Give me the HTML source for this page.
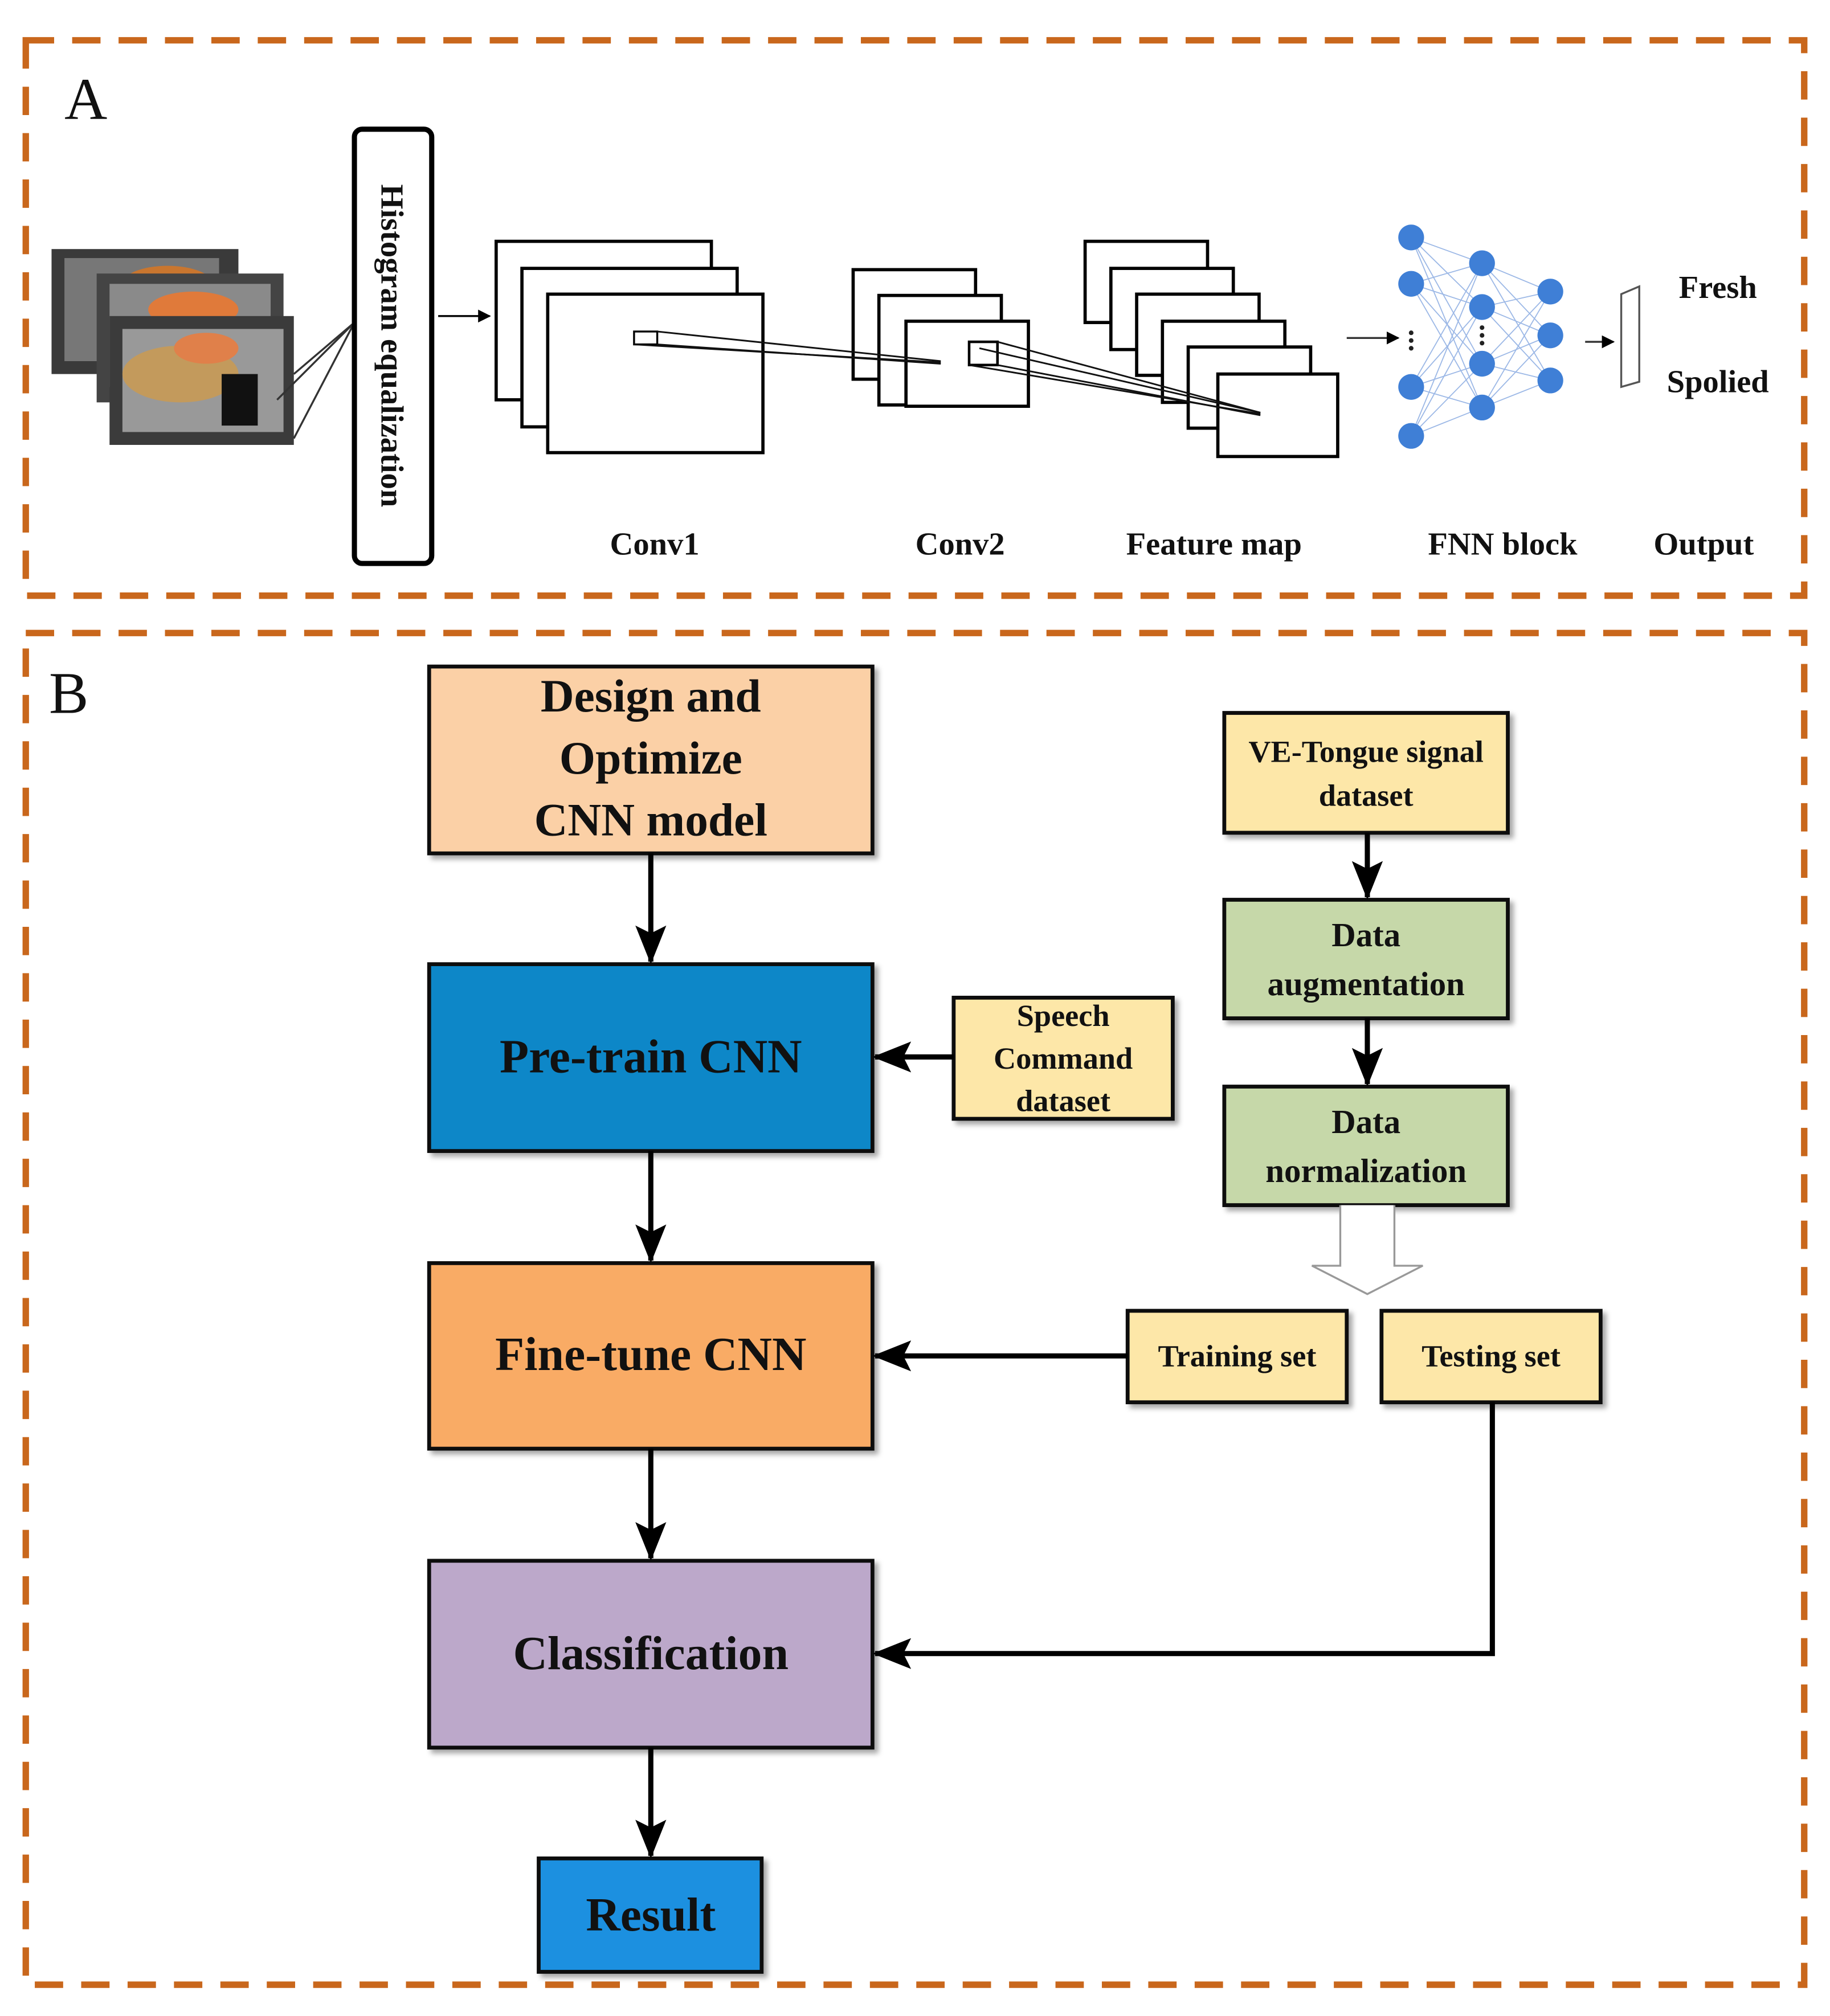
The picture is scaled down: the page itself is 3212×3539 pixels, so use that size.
<!DOCTYPE html>
<html><head><meta charset="utf-8"><style>
html,body{margin:0;padding:0;background:#fff;}
svg{display:block;}
text{font-family:"Liberation Serif",serif;font-weight:bold;fill:#111;}
</style></head><body>
<svg width="3212" height="3539" viewBox="0 0 1420 1564" xmlns="http://www.w3.org/2000/svg">
<defs>
<marker id="ah" markerWidth="10" markerHeight="10" refX="9" refY="5" orient="auto" markerUnits="userSpaceOnUse"><path d="M0,0 L10,5 L0,10 z" fill="#000"/></marker>
<marker id="AH" markerWidth="30" markerHeight="24" refX="28" refY="12" orient="auto" markerUnits="userSpaceOnUse"><path d="M0,0 L30,12 L0,24 L6,12 z" fill="#000"/></marker>
<filter id="sh" x="-5%" y="-5%" width="115%" height="115%"><feDropShadow dx="3" dy="3" stdDeviation="2" flood-color="#000" flood-opacity="0.35"/></filter>
</defs>
<!-- panel borders -->
<rect x="20" y="31" width="1380" height="431" fill="none" stroke="#c9671c" stroke-width="5" stroke-dasharray="22 14"/>
<rect x="20" y="491" width="1380" height="1049" fill="none" stroke="#c9671c" stroke-width="5" stroke-dasharray="22 14"/>
<text x="50" y="92" font-size="46" style="font-weight:normal">A</text>
<text x="38" y="553" font-size="46" style="font-weight:normal">B</text>

<!-- images -->
<rect x="40" y="193" width="145" height="97" fill="#3a3a3a"/>
<rect x="50" y="200" width="120" height="80" fill="#777"/>
<ellipse cx="130" cy="220" rx="35" ry="14" fill="#c9762f"/>
<rect x="75" y="212" width="145" height="100" fill="#444"/>
<rect x="85" y="220" width="125" height="80" fill="#8a8a8a"/>
<ellipse cx="150" cy="240" rx="35" ry="14" fill="#e07a3a"/>
<rect x="85" y="245" width="143" height="100" fill="#3b3b3b"/>
<rect x="95" y="255" width="125" height="80" fill="#999"/>
<ellipse cx="140" cy="290" rx="45" ry="22" fill="#c39a5c"/>
<ellipse cx="160" cy="270" rx="25" ry="12" fill="#e0804a"/>
<rect x="172" y="290" width="28" height="40" fill="#111"/>
<line x1="228" y1="290" x2="275" y2="250" stroke="#333" stroke-width="1.5"/>
<line x1="228" y1="340" x2="275" y2="250" stroke="#333" stroke-width="1.5"/>
<line x1="215" y1="310" x2="275" y2="250" stroke="#333" stroke-width="1.5"/>

<!-- histogram -->
<rect x="275" y="100" width="60" height="337" rx="6" fill="#fff" stroke="#000" stroke-width="4"/>
<text transform="translate(296,268) rotate(90)" font-size="25" text-anchor="middle">Histogram equalization</text>
<line x1="340" y1="245" x2="380" y2="245" stroke="#000" stroke-width="1.5" marker-end="url(#ah)"/>

<!-- conv1 -->
<g fill="#fff" stroke="#000" stroke-width="2.5">
<rect x="385" y="187" width="167" height="123"/>
<rect x="405" y="208" width="167" height="123"/>
<rect x="425" y="228" width="167" height="123"/>
<rect x="492" y="257" width="18" height="10" stroke-width="1.5"/>
<rect x="662" y="209" width="95" height="85"/>
<rect x="682" y="229" width="95" height="85"/>
<rect x="703" y="249" width="95" height="66"/>
<rect x="752" y="265" width="22" height="18" stroke-width="2"/>
<rect x="842" y="187" width="95" height="63"/>
<rect x="862" y="208" width="95" height="63"/>
<rect x="882" y="228" width="95" height="63"/>
<rect x="902" y="249" width="95" height="63"/>
<rect x="922" y="269" width="95" height="63"/>
<rect x="945" y="290" width="93" height="64"/>
</g>
<g stroke="#111" stroke-width="1.3">
<line x1="510" y1="257" x2="730" y2="280"/><line x1="510" y1="267" x2="730" y2="282"/><line x1="492" y1="267" x2="730" y2="281"/>
<line x1="774" y1="265" x2="978" y2="320"/><line x1="774" y1="283" x2="978" y2="322"/><line x1="752" y1="283" x2="978" y2="321"/><line x1="760" y1="270" x2="978" y2="320"/>
</g>

<!-- FNN -->
<g stroke="#9cb8e6" stroke-width="0.8">
<line x1="1095" y1="184" x2="1150" y2="204"/><line x1="1095" y1="184" x2="1150" y2="238"/><line x1="1095" y1="184" x2="1150" y2="282"/><line x1="1095" y1="184" x2="1150" y2="316"/>
<line x1="1095" y1="220" x2="1150" y2="204"/><line x1="1095" y1="220" x2="1150" y2="238"/><line x1="1095" y1="220" x2="1150" y2="282"/><line x1="1095" y1="220" x2="1150" y2="316"/>
<line x1="1095" y1="300" x2="1150" y2="204"/><line x1="1095" y1="300" x2="1150" y2="238"/><line x1="1095" y1="300" x2="1150" y2="282"/><line x1="1095" y1="300" x2="1150" y2="316"/>
<line x1="1095" y1="338" x2="1150" y2="204"/><line x1="1095" y1="338" x2="1150" y2="238"/><line x1="1095" y1="338" x2="1150" y2="282"/><line x1="1095" y1="338" x2="1150" y2="316"/>
<line x1="1150" y1="204" x2="1203" y2="226"/><line x1="1150" y1="204" x2="1203" y2="260"/><line x1="1150" y1="204" x2="1203" y2="295"/>
<line x1="1150" y1="238" x2="1203" y2="226"/><line x1="1150" y1="238" x2="1203" y2="260"/><line x1="1150" y1="238" x2="1203" y2="295"/>
<line x1="1150" y1="282" x2="1203" y2="226"/><line x1="1150" y1="282" x2="1203" y2="260"/><line x1="1150" y1="282" x2="1203" y2="295"/>
<line x1="1150" y1="316" x2="1203" y2="226"/><line x1="1150" y1="316" x2="1203" y2="260"/><line x1="1150" y1="316" x2="1203" y2="295"/>
</g>
<g fill="#3f7fd6">
<circle cx="1095" cy="184" r="10"/><circle cx="1095" cy="220" r="10"/><circle cx="1095" cy="300" r="10"/><circle cx="1095" cy="338" r="10"/>
<circle cx="1150" cy="204" r="10"/><circle cx="1150" cy="238" r="10"/><circle cx="1150" cy="282" r="10"/><circle cx="1150" cy="316" r="10"/>
<circle cx="1203" cy="226" r="10"/><circle cx="1203" cy="260" r="10"/><circle cx="1203" cy="295" r="10"/>
</g>
<g fill="#222"><circle cx="1095" cy="258" r="1.8"/><circle cx="1095" cy="264" r="1.8"/><circle cx="1095" cy="270" r="1.8"/>
<circle cx="1150" cy="254" r="1.8"/><circle cx="1150" cy="260" r="1.8"/><circle cx="1150" cy="266" r="1.8"/></g>
<line x1="1045" y1="262" x2="1085" y2="262" stroke="#333" stroke-width="1.5" marker-end="url(#ah)"/>
<line x1="1230" y1="265" x2="1252" y2="265" stroke="#333" stroke-width="1.5" marker-end="url(#ah)"/>
<path d="M1258,228 L1272,222 L1272,296 L1258,300 z" fill="#fff" stroke="#555" stroke-width="1.5"/>
<text x="1333" y="231" font-size="25" text-anchor="middle">Fresh</text>
<text x="1333" y="304" font-size="25" text-anchor="middle">Spolied</text>
<g font-size="25" text-anchor="middle">
<text x="508" y="430">Conv1</text><text x="745" y="430">Conv2</text><text x="942" y="430">Feature map</text><text x="1166" y="430">FNN block</text><text x="1322" y="430">Output</text>
</g>

<!-- Panel B boxes -->
<g stroke="#111" stroke-width="3" filter="url(#sh)">
<rect x="333" y="517" width="344" height="145" fill="#fbd0a6"/>
<rect x="333" y="748" width="344" height="145" fill="#0a87c8"/>
<rect x="333" y="980" width="344" height="144" fill="#f9ab65"/>
<rect x="333" y="1211" width="344" height="145" fill="#bca8ca"/>
<rect x="418" y="1442" width="173" height="88" fill="#1a90e0"/>
<rect x="740" y="774" width="170" height="94" fill="#fde7a8"/>
<rect x="950" y="553" width="220" height="93" fill="#fde7a8"/>
<rect x="950" y="698" width="220" height="92" fill="#c6d8a9"/>
<rect x="950" y="843" width="220" height="92" fill="#c6d8a9"/>
<rect x="875" y="1017" width="170" height="71" fill="#fde7a8"/>
<rect x="1072" y="1017" width="170" height="71" fill="#fde7a8"/>
</g>
<g text-anchor="middle">
<text x="505" y="552" font-size="36">Design and</text>
<text x="505" y="600" font-size="36">Optimize</text>
<text x="505" y="648" font-size="36">CNN model</text>
<text x="505" y="832" font-size="37">Pre-train CNN</text>
<text x="505" y="1063" font-size="37">Fine-tune CNN</text>
<text x="505" y="1295" font-size="37">Classification</text>
<text x="505" y="1498" font-size="37">Result</text>
<text x="825" y="796" font-size="24">Speech</text>
<text x="825" y="829" font-size="24">Command</text>
<text x="825" y="862" font-size="24">dataset</text>
<text x="1060" y="591" font-size="24">VE-Tongue signal</text>
<text x="1060" y="625" font-size="24">dataset</text>
<text x="1060" y="734" font-size="26">Data</text>
<text x="1060" y="772" font-size="26">augmentation</text>
<text x="1060" y="879" font-size="26">Data</text>
<text x="1060" y="917" font-size="26">normalization</text>
<text x="960" y="1060" font-size="24">Training set</text>
<text x="1157" y="1060" font-size="24">Testing set</text>
</g>
<g stroke="#000" stroke-width="4" fill="none">
<line x1="505" y1="662" x2="505" y2="746" marker-end="url(#AH)"/>
<line x1="505" y1="893" x2="505" y2="978" marker-end="url(#AH)"/>
<line x1="505" y1="1124" x2="505" y2="1209" marker-end="url(#AH)"/>
<line x1="505" y1="1356" x2="505" y2="1440" marker-end="url(#AH)"/>
<line x1="740" y1="820" x2="679" y2="820" marker-end="url(#AH)"/>
<line x1="875" y1="1052" x2="679" y2="1052" marker-end="url(#AH)"/>
<polyline points="1158,1088 1158,1283 679,1283" marker-end="url(#AH)"/>
<line x1="1061" y1="646" x2="1061" y2="696" marker-end="url(#AH)"/>
<line x1="1061" y1="790" x2="1061" y2="841" marker-end="url(#AH)"/>
</g>
<path d="M1040,935 L1040,982 L1018,982 L1061,1004 L1104,982 L1082,982 L1082,935" fill="#fff" stroke="#999" stroke-width="1.5"/>
</svg>
</body></html>
